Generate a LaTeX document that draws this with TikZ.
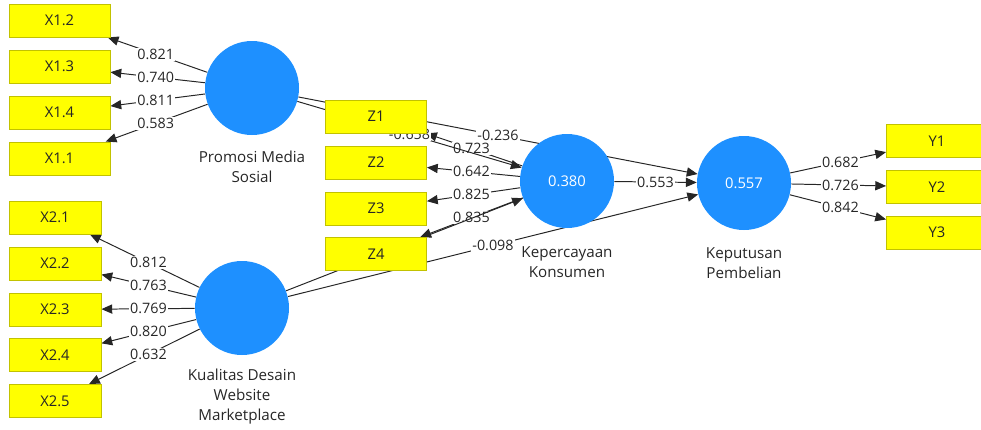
\documentclass[tikz,border=0pt]{standalone}
\usepackage{fontspec}
\setmainfont{Open Sans}
\usetikzlibrary{arrows.meta,calc,backgrounds}
\definecolor{plsBlue}{HTML}{1E90FF}
\definecolor{plsYellow}{HTML}{FFFF00}
\definecolor{plsEdge}{HTML}{C2C200}
\definecolor{plsInk}{HTML}{262626}

\begin{document}
\begin{tikzpicture}[x=0.25mm, y=-0.25mm,
  indicator/.style={rectangle, draw=plsEdge, fill=plsYellow, line width=0.6pt, minimum width=25.25mm, minimum height=8.25mm, inner sep=0pt, text=plsInk, font=\fontsize{10.5}{12}\selectfont},
  latent/.style={circle, fill=plsBlue, minimum size=23.5mm, inner sep=0pt, text=white, font=\fontsize{10.5}{12}\selectfont},
  caption/.style={align=center, inner sep=0pt, text=plsInk, font=\fontsize{10.8}{14.2}\selectfont},
  coef/.style={fill=white, inner sep=0.8pt, text=plsInk, font=\fontsize{10.2}{12}\selectfont},
  arrow/.style={-{Triangle[length=2.7mm, width=2.3mm]}, line width=0.7pt, draw=plsInk},
]
\useasboundingbox (0,0) rectangle (981,429);

% constructs
\node[latent] (pms) at (252,88) {};
\node[latent] (kdw) at (242,308) {};
\node[latent] (kk) at (567,181) {0.380};
\node[latent] (kp) at (744,183) {0.557};

\node[caption, anchor=north] (pms-cap) at (252,151) {Promosi Media\\Sosial};
\node[caption, anchor=north] (kdw-cap) at (242,369) {Kualitas Desain\\Website\\Marketplace};
\node[caption, anchor=north] (kk-cap) at (567,246) {Kepercayaan\\Konsumen};
\node[caption, anchor=north] (kp-cap) at (744,247) {Keputusan\\Pembelian};

% indicators
\foreach \n/\t/\y in {x12/X1.2/20.5, x13/X1.3/66.5, x14/X1.4/112.5, x11/X1.1/158.5} {
  \node[indicator] (\n) at (59.5,\y) {\t};
}
\foreach \n/\t/\y in {x21/X2.1/217.5, x22/X2.2/263.5, x23/X2.3/309.5, x24/X2.4/355, x25/X2.5/401} {
  \node[indicator, minimum width=23mm] (\n) at (55,\y) {\t};
}
\foreach \n/\t/\y in {z1/Z1/116.5, z2/Z2/162.5, z3/Z3/208.5, z4/Z4/254} {
  \node[indicator] (\n) at (376,\y) {\t};
}
\foreach \n/\t/\y in {y1/Y1/141, y2/Y2/187, y3/Y3/232.5} {
  \node[indicator] (\n) at (937,\y) {\t};
}

\begin{scope}[on background layer]
  % outer loadings
  \foreach \a/\b/\v in {pms/x12/0.821, pms/x13/0.740, pms/x14/0.811, pms/x11/0.583,
      kdw/x21/0.812, kdw/x22/0.763, kdw/x23/0.769, kdw/x24/0.820, kdw/x25/0.632,
      kk/z1/0.723, kk/z2/0.642, kk/z3/0.825, kk/z4/0.835,
      kp/y1/0.682, kp/y2/0.726, kp/y3/0.842} {
    \draw[arrow] (\a) -- (\b);
    \node[coef] (w-\b) at ($(\a)!.5!(\b)$) {\v};
  }
  % inner model
  \draw[arrow] (kdw) -- (kk);
  \foreach \a/\b/\v in {pms/kk/-0.658, pms/kp/-0.236, kdw/kp/-0.098, kk/kp/0.553} {
    \draw[arrow] (\a) -- (\b);
    \node[coef] (p-\a-\b) at ($(\a)!.5!(\b)$) {\v};
  }
\end{scope}
\end{tikzpicture}
\end{document}
